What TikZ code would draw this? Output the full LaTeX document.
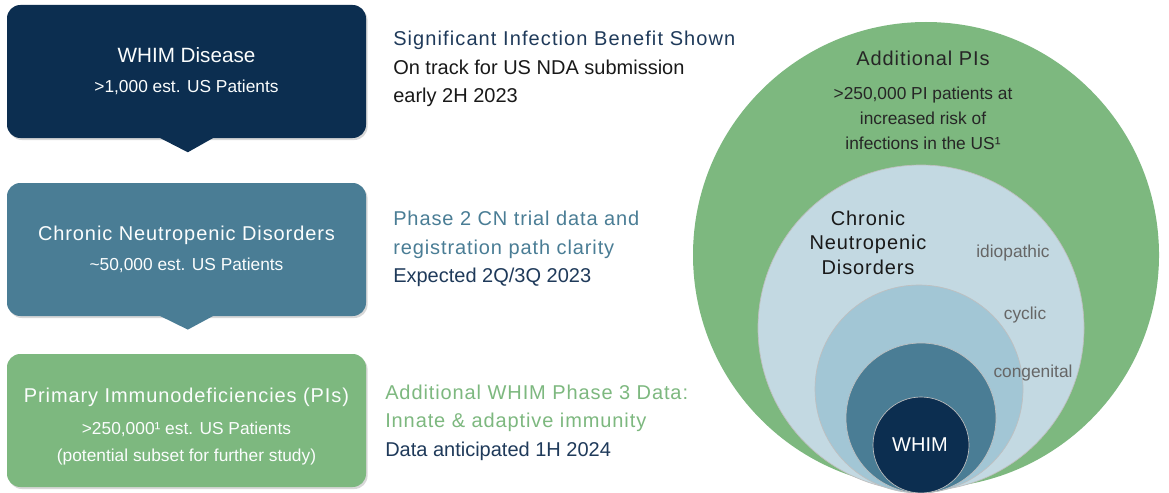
\documentclass[tikz,border=0pt]{standalone}
\usepackage{fontspec}
\setmainfont{Liberation Sans}
\newfontfamily\spaced[LetterSpace=4.5]{Liberation Sans}
\usetikzlibrary{shadows}
\definecolor{navy}{HTML}{0C2E50}
\definecolor{cnblue}{HTML}{4A7D95}
\definecolor{pigreen}{HTML}{7DB87F}
\definecolor{paleblue}{HTML}{C3D9E2}
\definecolor{skyblue}{HTML}{A2C6D5}
\definecolor{navytext}{HTML}{1F3A5A}
\definecolor{labelgray}{HTML}{666666}

\begin{document}
\begin{tikzpicture}[x=0.75pt,y=-0.75pt,
  box/.style={rounded corners=10pt,minimum width=269.25pt,minimum height=99.75pt,
    align=center,text=white!94!paleblue,font=\fontsize{13}{20}\selectfont,
    drop shadow={opacity=0.3,shadow xshift=1.2pt,shadow yshift=-1.5pt}},
  note/.style={anchor=west,align=left,inner xsep=0pt,font=\fontsize{15}{21.4}\selectfont},
  ring/.style={draw=black!25,line width=0.5pt}]
\useasboundingbox (0,0) rectangle (1169,492);
\fill[white] (0,0) rectangle (1169,492);

% boxes on the left
\node[box,fill=navy] (whim) at (186.5,71.5)
  {{\fontsize{15.5}{18}\selectfont WHIM Disease}\\[2.5pt]>1,000 est. US Patients};
\fill[navy] ([xshift=-21.4pt,yshift=1pt]whim.south) -- ([xshift=21.4pt,yshift=1pt]whim.south)
  -- ([xshift=1pt,yshift=-10.5pt]whim.south) -- cycle;

\node[box,fill=cnblue] (cnd) at (186.5,249.5)
  {{\spaced\fontsize{15}{18}\selectfont Chronic Neutropenic Disorders}\\[2.5pt]\textasciitilde 50,000 est. US Patients};
\fill[cnblue] ([xshift=-21.4pt,yshift=1pt]cnd.south) -- ([xshift=21.4pt,yshift=1pt]cnd.south)
  -- ([xshift=1pt,yshift=-10pt]cnd.south) -- cycle;

\node[box,fill=pigreen] (pi) at (186.5,420.5)
  {\rule{0pt}{20pt}{\spaced\fontsize{15}{18}\selectfont Primary Immunodeficiencies (PIs)}\\[4pt]>250,000¹ est. US Patients\\(potential subset for further study)};

% notes beside the boxes
\node[note,text=black!90] (whimnote) at (393,69)
  {{\spaced\addfontfeature{LetterSpace=5.5}\color{navytext}Significant Infection Benefit Shown}\\On track for US NDA submission\\early 2H 2023};
\node[note,text=navytext] (cndnote) at (393,249)
  {{\spaced\color{cnblue}Phase 2 CN trial data and}\\{\spaced\color{cnblue}registration path clarity}\\Expected 2Q/3Q 2023};
\node[note,text=navytext] (pinote) at (385,422.5)
  {{\spaced\color{pigreen}Additional WHIM Phase 3 Data:}\\{\spaced\color{pigreen}Innate \& adaptive immunity}\\Data anticipated 1H 2024};

% nested circles
\fill[pigreen] (926,255) circle[radius=174.75pt];
\filldraw[paleblue,ring] (921,328) circle[radius=122.25pt];
\filldraw[skyblue,ring] (919,389) circle[radius=78pt];
\filldraw[cnblue,ring] (921,418) circle[radius=56.25pt];
\filldraw[navy,ring] (921,445) circle[radius=36pt];

\node[text=black!85,font=\spaced\fontsize{15}{18}\selectfont] (pititle) at (923,58) {Additional PIs};
\node[text=black!85,align=center,font=\fontsize{13}{18.75}\selectfont] (pibody) at (923,118)
  {>250,000 PI patients at\\increased risk of\\infections in the US¹};
\node[text=black!90,align=center,font=\spaced\fontsize{15}{18.4}\selectfont] (cndtitle) at (868,242.5)
  {Chronic\\Neutropenic\\Disorders};
\node[text=labelgray,font=\fontsize{13}{15}\selectfont] (idio) at (1013,253) {idiopathic};
\node[text=labelgray,font=\fontsize{13}{15}\selectfont] (cyclic) at (1025,315) {cyclic};
\node[text=labelgray,font=\fontsize{13}{15}\selectfont] (cong) at (1033,373) {congenital};
\node[text=white,font=\fontsize{15}{18}\selectfont] (whimcore) at (920,445) {WHIM};
\end{tikzpicture}
\end{document}
